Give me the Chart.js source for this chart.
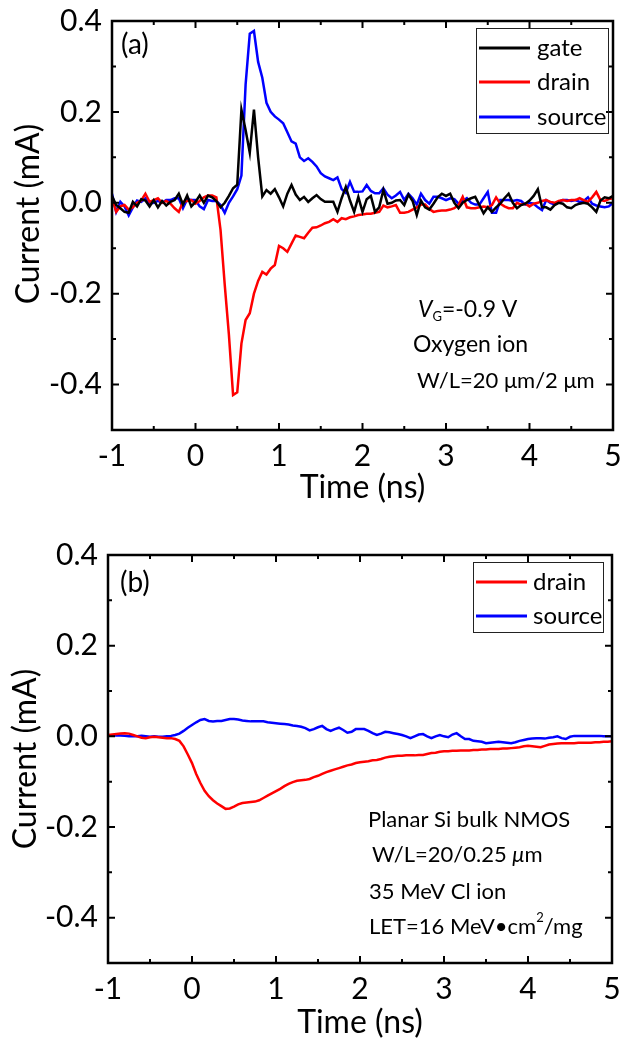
<!DOCTYPE html>
<html>
<head>
<meta charset="utf-8">
<script src="https://cdn.jsdelivr.net/npm/chart.js@4.4.1/dist/chart.umd.min.js"></script>
<style>
html, body { margin: 0; padding: 0; background: #fff; }
canvas { position: absolute; left: 0; }
#chartA { top: 0; }
#chartB { top: 520px; }
</style>
</head>
<body>
<canvas id="chartA" width="621" height="520"></canvas>
<canvas id="chartB" width="621" height="522"></canvas>
<script>
// sampling times (ns)
const time = [
  -1, -0.95, -0.9, -0.85, -0.8, -0.75, -0.7, -0.65, -0.6, -0.55,
  -0.5, -0.45, -0.4, -0.35, -0.3, -0.25, -0.2, -0.15, -0.1, -0.05,
  0, 0.05, 0.1, 0.15, 0.2, 0.25, 0.3, 0.35, 0.4, 0.45,
  0.5, 0.55, 0.6, 0.65, 0.7, 0.75, 0.8, 0.85, 0.9, 0.95,
  1, 1.05, 1.1, 1.15, 1.2, 1.25, 1.3, 1.35, 1.4, 1.45,
  1.5, 1.55, 1.6, 1.65, 1.7, 1.75, 1.8, 1.85, 1.9, 1.95,
  2, 2.05, 2.1, 2.15, 2.2, 2.25, 2.3, 2.35, 2.4, 2.45,
  2.5, 2.55, 2.6, 2.65, 2.7, 2.75, 2.8, 2.85, 2.9, 2.95,
  3, 3.05, 3.1, 3.15, 3.2, 3.25, 3.3, 3.35, 3.4, 3.45,
  3.5, 3.55, 3.6, 3.65, 3.7, 3.75, 3.8, 3.85, 3.9, 3.95,
  4, 4.05, 4.1, 4.15, 4.2, 4.25, 4.3, 4.35, 4.4, 4.45,
  4.5, 4.55, 4.6, 4.65, 4.7, 4.75, 4.8, 4.85, 4.9, 4.95,
  5
];

// (a) oxygen ion, mA
const gateA = [
  0.015, -0.005, -0.012, -0.02, -0.022, 0.002, -0.008, 0.008, 0.005, -0.008,
  0.006, -0.01, 0.004, -0.006, 0.002, 0.006, 0.02, -0.004, 0.016, -0.008,
  0.002, 0.016, 0.0, 0.016, 0.012, 0.004, -0.01, 0.0, 0.015, 0.032,
  0.04, 0.205, 0.16, 0.11, 0.205, 0.1, 0.014, 0.028, 0.02, 0.03,
  0.012, -0.008, 0.02, 0.039, 0.018, 0.006, 0.013, 0.002, 0.01, 0.017,
  0.008, 0.002, 0.002, 0.002, -0.02, 0.01, 0.035, 0.005, -0.02, 0.013,
  -0.02, 0.008, 0.015, -0.02, -0.01, 0.028, -0.002, 0.0, 0.005, 0.006,
  -0.005, 0.018, 0.004, -0.027, 0.005, -0.01, -0.015, -0.002, 0.012, 0.02,
  0.015, 0.02, 0.0, -0.012, 0.0, 0.006, 0.01, 0.013, -0.005, -0.023,
  -0.01, -0.02, -0.01, -0.002, 0.01, 0.02, 0.0, -0.012, -0.005, -0.002,
  0.005, 0.015, 0.03, -0.01, -0.01, -0.015, -0.005, 0.0, -0.002, -0.01,
  -0.012, -0.005, -0.002, 0.0, -0.002, -0.01, -0.02, 0.005, 0.012, 0.01,
  0.015
];
const drainA = [
  0.012, -0.02, -0.008, -0.005, -0.015, -0.01, 0.0, 0.005, 0.02, 0.002,
  0.006, 0.01, 0.0, 0.004, -0.002, -0.012, -0.02, 0.002, 0.004, 0.006,
  -0.002, 0.004, 0.012, 0.016, 0.016, 0.012, -0.06, -0.18, -0.29, -0.423,
  -0.417, -0.31, -0.258, -0.243, -0.2, -0.172, -0.152, -0.158, -0.145, -0.137,
  -0.095, -0.1, -0.108, -0.09, -0.072, -0.075, -0.078, -0.066, -0.055, -0.054,
  -0.05, -0.045, -0.042, -0.036, -0.042, -0.034, -0.036, -0.032, -0.03, -0.027,
  -0.026, -0.024, -0.024, -0.022, -0.02, -0.006, -0.01, -0.008, -0.005, -0.022,
  -0.022, -0.02, -0.015, -0.01, -0.004, -0.004, -0.014, -0.02, -0.018, -0.017,
  -0.017, -0.015, -0.012, -0.005, 0.013, -0.01, -0.012, -0.012, -0.01, -0.008,
  -0.01, -0.005, 0.012, -0.002, -0.008, -0.012, -0.012, 0.0, -0.004, -0.002,
  -0.008, -0.002, 0.0, 0.004, 0.006, 0.002, 0.0, 0.004, 0.006, 0.004,
  0.006, 0.006, 0.01, 0.006, 0.002, 0.012, 0.024, 0.006, 0.004, 0.008,
  0.01
];
const sourceA = [
  0.02, -0.02, 0.002, -0.008, -0.028, -0.01, 0.005, 0.002, 0.01, -0.002,
  0.0, 0.004, 0.0, 0.006, 0.006, 0.01, 0.01, -0.012, 0.008, 0.006,
  0.006, -0.008, -0.014, 0.006, 0.004, 0.004, -0.005, -0.022, 0.0, 0.014,
  0.03, 0.06, 0.26, 0.372, 0.378, 0.31, 0.275, 0.22, 0.2, 0.19,
  0.183, 0.175, 0.155, 0.135, 0.13, 0.1, 0.092, 0.098, 0.09, 0.08,
  0.065, 0.058, 0.054, 0.05, 0.056, 0.03, 0.022, 0.046, 0.024, 0.024,
  0.025, 0.039, 0.026, 0.021, 0.021, 0.032, 0.018, 0.01, 0.016, 0.024,
  0.006, 0.02, 0.01, -0.004, 0.02, 0.006, -0.002, 0.013, 0.013, 0.01,
  0.006, 0.01, 0.008, -0.002, 0.004, 0.01, 0.0, -0.004, -0.004, 0.01,
  0.024, -0.022, -0.022, 0.006, 0.006, 0.006, 0.004, 0.006, 0.004, -0.004,
  0.0, -0.002, -0.01, -0.016, 0.006, 0.0, -0.004, 0.002, 0.006, 0.006,
  0.004, 0.006, 0.002, 0.004, 0.012, -0.002, -0.006, -0.008, -0.01, -0.008,
  0.0
];

// (b) Cl ion, mA
const drainB = [
  0.003, 0.004, 0.005, 0.006, 0.007, 0.006, 0.003, 0.0, -0.003, -0.004,
  -0.002, -0.001, -0.002, -0.003, -0.004, -0.004, -0.006, -0.01, -0.022, -0.04,
  -0.059, -0.083, -0.103, -0.12, -0.132, -0.141, -0.148, -0.154, -0.16, -0.159,
  -0.155, -0.15, -0.147, -0.146, -0.145, -0.144, -0.141, -0.136, -0.131, -0.126,
  -0.121, -0.116, -0.11, -0.105, -0.101, -0.098, -0.097, -0.096, -0.094, -0.09,
  -0.087, -0.083, -0.079, -0.076, -0.073, -0.07, -0.067, -0.064, -0.062, -0.059,
  -0.057, -0.056, -0.055, -0.053, -0.052, -0.05, -0.047, -0.045, -0.044, -0.043,
  -0.043, -0.042, -0.042, -0.042, -0.041, -0.041, -0.039, -0.037, -0.036, -0.034,
  -0.033, -0.033, -0.032, -0.032, -0.031, -0.031, -0.031, -0.03, -0.03, -0.029,
  -0.029, -0.028, -0.028, -0.028, -0.027, -0.027, -0.026, -0.025, -0.024, -0.022,
  -0.021, -0.022, -0.023, -0.024, -0.021, -0.018, -0.017, -0.016, -0.015, -0.015,
  -0.015, -0.015, -0.014, -0.014, -0.014, -0.014, -0.013, -0.013, -0.012, -0.012,
  -0.011
];
const sourceB = [
  0.002, 0.002, 0.002, 0.002, 0.001, 0.0, 0.0, 0.0, 0.001, 0.0,
  -0.001, 0.0, -0.001, -0.001, 0.0, 0.001, 0.003, 0.006, 0.012, 0.019,
  0.025, 0.031, 0.036, 0.038, 0.034, 0.033, 0.034, 0.034, 0.036, 0.038,
  0.038, 0.037, 0.035, 0.034, 0.033, 0.033, 0.033, 0.033, 0.031, 0.03,
  0.029, 0.028, 0.027, 0.026, 0.024, 0.023, 0.021, 0.018, 0.013, 0.016,
  0.02, 0.023, 0.016, 0.012, 0.016, 0.019, 0.014, 0.008, 0.01, 0.016,
  0.016, 0.016, 0.012, 0.007, 0.003, 0.006, 0.01, 0.009, 0.007, 0.005,
  0.003, 0.0, -0.004, 0.0, 0.004, 0.005, 0.0, -0.004, 0.0, 0.003,
  0.0, -0.002, 0.004, 0.007, 0.0, -0.006, -0.006, -0.01, -0.011, -0.012,
  -0.015, -0.014, -0.013, -0.012, -0.013, -0.014, -0.015, -0.013, -0.01, -0.008,
  -0.006, -0.005, -0.004, -0.004, -0.005, -0.003, -0.002, 0.0, -0.004, -0.006,
  -0.001, 0.001, 0.001, 0.001, 0.001, 0.001, 0.001, 0.001, 0.0, 0.0,
  0.0
];

const FONT = "Lato, 'Open Sans', sans-serif";
Chart.defaults.font.family = FONT;
Chart.defaults.color = "#000";

function series(vals) {
    return time.map((t, i) => ({ x: t, y: vals[i] }));
}

function line(label, color, vals) {
    return {
        label: label,
        data: series(vals),
        borderColor: color,
        borderWidth: 2.5,
        pointRadius: 0,
        tension: 0,
        fill: false
    };
}

// frame, inward ticks, legend box, y title and text notes
const framePlugin = {
    id: "framePlugin",
    afterDraw(chart, args, o) {
        const ctx = chart.ctx;
        const a = chart.chartArea;
        const xs = chart.scales.x;
        const ys = chart.scales.y;
        ctx.save();

        ctx.strokeStyle = "#000";
        ctx.lineWidth = 2;
        ctx.beginPath();
        xs.ticks.forEach(tk => {
            const p = xs.getPixelForValue(tk.value);
            const len = Math.abs(tk.value - Math.round(tk.value)) < 1e-6 ? 7 : 4;
            ctx.moveTo(p, a.bottom); ctx.lineTo(p, a.bottom - len);
            ctx.moveTo(p, a.top); ctx.lineTo(p, a.top + len);
        });
        ys.ticks.forEach(tk => {
            const p = ys.getPixelForValue(tk.value);
            const len = Math.round(tk.value * 10) % 2 === 0 ? 7 : 4;
            ctx.moveTo(a.left, p); ctx.lineTo(a.left + len, p);
            ctx.moveTo(a.right, p); ctx.lineTo(a.right - len, p);
        });
        ctx.stroke();
        ctx.lineWidth = 2.5;
        ctx.strokeRect(a.left, a.top, a.right - a.left, a.bottom - a.top);

        // y title
        ctx.fillStyle = "#000";
        ctx.font = o.yTitle.size + "px " + FONT;
        ctx.textAlign = "center";
        ctx.textBaseline = "middle";
        ctx.translate(o.yTitle.x, o.yTitle.y);
        ctx.rotate(-Math.PI / 2);
        ctx.fillText(o.yTitle.text, 0, 0);
        ctx.setTransform(1, 0, 0, 1, 0, 0);

        // legend
        const lg = o.legend;
        ctx.strokeStyle = "#222";
        ctx.lineWidth = 1;
        ctx.strokeRect(lg.x + 0.5, lg.y + 0.5, lg.w, lg.h);
        ctx.font = lg.size + "px " + FONT;
        ctx.textAlign = "left";
        chart.data.datasets.forEach((ds, i) => {
            const yy = lg.rows[i];
            ctx.strokeStyle = ds.borderColor;
            ctx.lineWidth = 3;
            ctx.beginPath();
            ctx.moveTo(lg.x0, yy);
            ctx.lineTo(lg.x1, yy);
            ctx.stroke();
            ctx.fillText(ds.label, lg.tx, yy);
        });

        // notes
        o.notes.forEach(n => {
            let x = n.x;
            n.parts.forEach(p => {
                ctx.font = (p.italic ? "italic " : "") + (p.size || n.size) + "px " + FONT;
                ctx.fillText(p.t, x, n.y + (p.dy || 0));
                x += ctx.measureText(p.t).width;
            });
        });
        ctx.restore();
    }
};

function makeChart(id, datasets, cfg) {
    return new Chart(document.getElementById(id), {
        type: "line",
        data: { datasets: datasets },
        plugins: [framePlugin],
        options: {
            responsive: false,
            animation: false,
            layout: { padding: { top: cfg.padTop, right: cfg.padRight, left: 0, bottom: 0 } },
            plugins: {
                legend: { display: false },
                tooltip: { enabled: false },
                framePlugin: cfg.deco
            },
            scales: {
                x: {
                    type: "linear",
                    min: -1,
                    max: 5,
                    grid: { display: false, drawTicks: false },
                    border: { display: false },
                    ticks: {
                        stepSize: 0.5,
                        autoSkip: false,
                        maxRotation: 0,
                        padding: cfg.xTickPad,
                        font: { size: 30 },
                        color: "#000",
                        callback: v => Math.abs(v - Math.round(v)) < 1e-6 ? String(Math.round(v)) : ""
                    },
                    title: {
                        display: true,
                        text: "Time (ns)",
                        font: { size: 32 },
                        color: "#000",
                        padding: { top: 0, bottom: cfg.xTitlePad }
                    },
                    afterFit: s => { s.height = cfg.xHeight; s.paddingLeft = 0; s.paddingRight = 0; }
                },
                y: {
                    min: -0.5,
                    max: 0.4,
                    grid: { display: false, drawTicks: false },
                    border: { display: false },
                    ticks: {
                        stepSize: 0.1,
                        autoSkip: false,
                        padding: 10,
                        font: { size: 30 },
                        color: "#000",
                        callback: v => Math.round(v * 10) % 2 === 0 ? (Math.round(v * 10) / 10).toFixed(1) : ""
                    },
                    afterFit: s => { s.width = cfg.yWidth; s.paddingTop = 0; s.paddingBottom = 0; }
                }
            }
        }
    });
}

makeChart("chartA", [
    line("gate", "#000000", gateA),
    line("drain", "#ff0000", drainA),
    line("source", "#0000ff", sourceA)
], {
    padTop: 21, padRight: 8, yWidth: 112, xHeight: 90, xTickPad: 8, xTitlePad: 13,
    deco: {
        yTitle: { text: "Current (mA)", size: 32, x: 29, y: 214 },
        legend: { x: 476, y: 28, w: 132, h: 105, rows: [48, 82, 117], x0: 479, x1: 530, tx: 537, size: 24 },
        notes: [
            { x: 121, y: 45, size: 28, parts: [{ t: "(a)" }] },
            { x: 418, y: 310, size: 23, parts: [{ t: "V", italic: true }, { t: "G", size: 13, dy: 7 }, { t: "=-0.9 V" }] },
            { x: 413, y: 345, size: 23, parts: [{ t: "Oxygen ion" }] },
            { x: 417, y: 381, size: 22, parts: [{ t: "W/L=20 \u03bcm/2 \u03bcm" }] }
        ]
    }
});

makeChart("chartB", [
    line("drain", "#ff0000", drainB),
    line("source", "#0000ff", sourceB)
], {
    padTop: 35, padRight: 9, yWidth: 108, xHeight: 79, xTickPad: 8, xTitlePad: 0,
    deco: {
        yTitle: { text: "Current (mA)", size: 32, x: 26, y: 239 },
        legend: { x: 473, y: 42, w: 130, h: 70, rows: [62, 96], x0: 476, x1: 527, tx: 533, size: 24 },
        notes: [
            { x: 120, y: 63, size: 28, parts: [{ t: "(b)" }] },
            { x: 368, y: 300, size: 22, parts: [{ t: "Planar Si bulk NMOS" }] },
            { x: 372, y: 335, size: 22, parts: [{ t: "W/L=20/0.25 " }, { t: "\u03bc", italic: true }, { t: "m" }] },
            { x: 369, y: 372, size: 22, parts: [{ t: "35 MeV Cl ion" }] },
            { x: 369, y: 407, size: 22, parts: [{ t: "LET=16 MeV\u2022cm" }, { t: "2", size: 13, dy: -9 }, { t: "/mg" }] }
        ]
    }
});
</script>
</body>
</html>
